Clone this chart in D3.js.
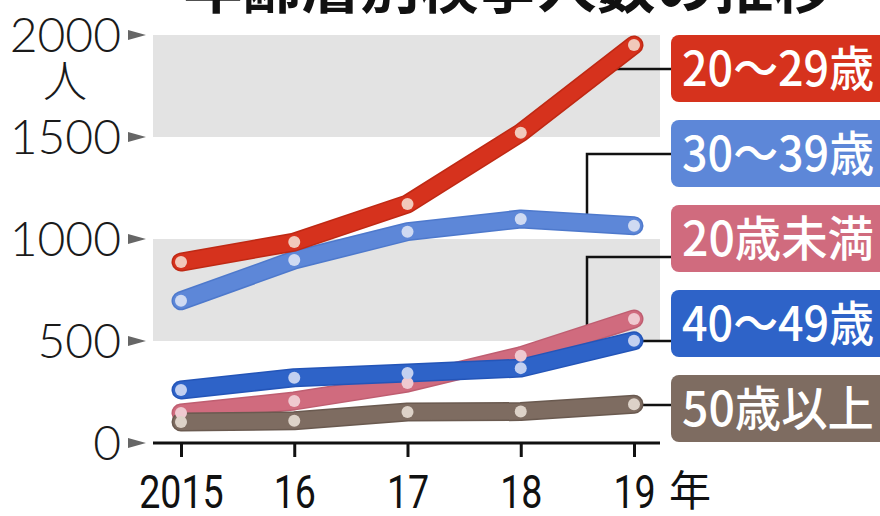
<!DOCTYPE html>
<html>
<head>
<meta charset="utf-8">
<script src="https://cdn.jsdelivr.net/npm/d3@7"></script>
<style>
  body { margin: 0; background: #fff; }
  svg { display: block; }
</style>
</head>
<body>
<svg id="chart" width="880" height="516"></svg>
<script>
(function () {
  const title = '年齢層別検挙人数の推移';
  const years = [2015, 2016, 2017, 2018, 2019];
  const yearLabels = ['2015', '16', '17', '18', '19'];
  const yTicks = [0, 500, 1000, 1500, 2000];

  // 検挙人数（人）
  const age20s = [887, 985, 1172, 1521, 1951];
  const age30s = [697, 897, 1036, 1098, 1065];
  const under20 = [147, 206, 294, 428, 608];
  const age40s = [260, 320, 343, 367, 501];
  const over50 = [103, 109, 152, 154, 190];

  const seriesNames = ['20～29歳', '30～39歳', '20歳未満', '40～49歳', '50歳以上'];
  const seriesValues = [age20s, age30s, under20, age40s, over50];

  const colors = ['#d6321d', '#5d87d8', '#d06b7e', '#2e63c8', '#7e6c61'];
  const edgeColors = ['#bf2914', '#4e79cc', '#bf5e71', '#2455b8', '#6a5a50'];
  const dotColors = ['#f1c9bb', '#cfdaf2', '#efc9d0', '#c3d0f0', '#ddd2c8'];

  // draw order: bottom first
  const drawOrder = [2, 4, 3, 1, 0];

  const svg = d3.select('#chart');

  const x = d3.scaleLinear().domain([2015, 2019]).range([181, 634]);
  const y = d3.scaleLinear().domain([0, 2000]).range([443, 35]);

  const plotLeft = 153, plotRight = 660;

  // gray bands
  [[1500, 2000], [500, 1000]].forEach(function (b) {
    svg.append('rect')
      .attr('x', plotLeft)
      .attr('y', y(b[1]))
      .attr('width', plotRight - plotLeft)
      .attr('height', y(b[0]) - y(b[1]))
      .attr('fill', '#e3e3e3');
  });

  // title (top cut off)
  svg.append('text')
    .attr('x', 508)
    .attr('y', 8)
    .attr('text-anchor', 'middle')
    .style('font-family', '"Noto Sans CJK JP"')
    .style('font-weight', 'bold')
    .style('font-size', '59px')
    .attr('fill', '#111')
    .text(title);

  // y axis labels and arrows
  const yAxis = svg.append('g').attr('class', 'y-axis');
  yTicks.forEach(function (t) {
    yAxis.append('text')
      .attr('x', 121)
      .attr('y', y(t))
      .attr('dy', '0.36em')
      .attr('text-anchor', 'end')
      .style('font-family', 'Lato, "Open Sans", sans-serif')
      .style('font-weight', 300)
      .style('font-size', '48px')
      .attr('fill', '#1a1a1a')
      .text(t);
    yAxis.append('path')
      .attr('d', `M128,${y(t) - 5}L146,${y(t)}L128,${y(t) + 5}Z`)
      .attr('fill', '#666');
  });
  yAxis.append('text')
    .attr('x', 65)
    .attr('y', 97)
    .attr('text-anchor', 'middle')
    .style('font-family', '"Noto Sans CJK JP"')
    .style('font-weight', 300)
    .style('font-size', '44px')
    .attr('fill', '#1a1a1a')
    .text('人');

  // x axis
  const xAxis = d3.axisBottom(x)
    .tickValues(years)
    .tickFormat((d, i) => yearLabels[i])
    .tickSize(14)
    .tickSizeOuter(0)
    .tickPadding(18);
  const gx = svg.append('g')
    .attr('class', 'x-axis')
    .attr('transform', `translate(0,${y(0)})`)
    .call(xAxis);
  gx.select('.domain')
    .attr('d', `M${plotLeft},0H${plotRight}`)
    .attr('stroke', '#111')
    .attr('stroke-width', 3);
  gx.selectAll('.tick line').attr('stroke', '#111').attr('stroke-width', 3);
  gx.selectAll('.tick text')
    .attr('fill', '#111')
    .attr('transform', 'scale(0.8,1)')
    .style('font-family', 'Roboto, "Liberation Sans", sans-serif')
    .style('font-weight', 400)
    .style('font-size', '47px');
  svg.append('text')
    .attr('x', 690)
    .attr('y', 506)
    .attr('text-anchor', 'middle')
    .style('font-family', '"Noto Sans CJK JP"')
    .style('font-size', '42px')
    .attr('fill', '#111')
    .text('年');

  // legend leaders
  const leaders = [
    [[671, 69], [605, 69]],
    [[671, 154], [587, 154], [587, 222]],
    [[671, 257], [587, 257], [587, 334]],
    [[671, 341], [630, 341]],
    [[671, 405], [630, 405]]
  ];
  const leaderLine = d3.line();
  leaders.forEach(function (pts) {
    svg.append('path')
      .attr('d', leaderLine(pts))
      .attr('fill', 'none')
      .attr('stroke', '#111')
      .attr('stroke-width', 2.5);
  });

  // lines
  const line = d3.line()
    .x((d, i) => x(years[i]))
    .y((d) => y(d));

  drawOrder.forEach(function (k) {
    svg.append('path')
      .datum(seriesValues[k])
      .attr('d', line)
      .attr('fill', 'none')
      .attr('stroke', edgeColors[k])
      .attr('stroke-width', 19)
      .attr('stroke-linecap', 'round')
      .attr('stroke-linejoin', 'round');
    svg.append('path')
      .datum(seriesValues[k])
      .attr('d', line)
      .attr('fill', 'none')
      .attr('stroke', colors[k])
      .attr('stroke-width', 16)
      .attr('stroke-linecap', 'round')
      .attr('stroke-linejoin', 'round');
  });

  drawOrder.forEach(function (k) {
    svg.append('g')
      .selectAll('circle')
      .data(seriesValues[k])
      .join('circle')
      .attr('cx', (d, i) => x(years[i]))
      .attr('cy', (d) => y(d))
      .attr('r', 6)
      .attr('fill', dotColors[k]);
  });

  // legend boxes
  const boxX = 671, boxTop = 35, boxStep = 85, boxH = 67;
  seriesNames.forEach(function (name, k) {
    const top = boxTop + k * boxStep;
    svg.append('rect')
      .attr('x', boxX)
      .attr('y', top)
      .attr('width', 240)
      .attr('height', boxH)
      .attr('rx', 8)
      .attr('fill', colors[k]);
    svg.append('text')
      .attr('x', boxX + 11)
      .attr('y', top + boxH / 2)
      .attr('dy', '0.36em')
      .attr('textLength', 192)
      .attr('lengthAdjust', 'spacingAndGlyphs')
      .style('font-family', '"Noto Sans CJK JP", sans-serif')
      .style('font-weight', 500)
      .style('font-size', '48px')
      .attr('fill', '#fff')
      .text(name);
  });
})();
</script>
</body>
</html>
